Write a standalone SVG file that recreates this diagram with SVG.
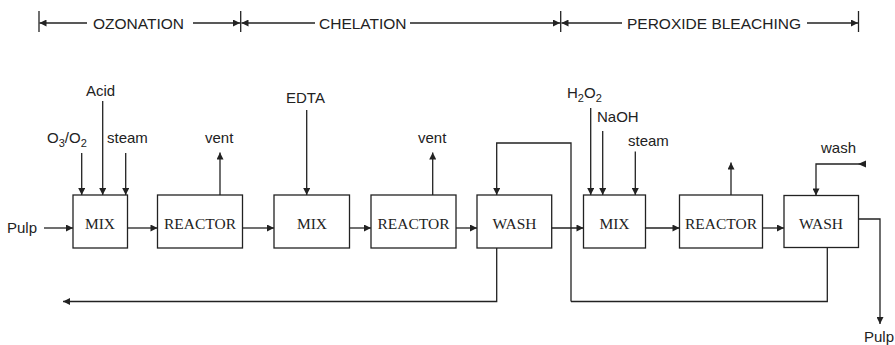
<svg xmlns="http://www.w3.org/2000/svg" width="895" height="345" viewBox="0 0 895 345">
<style>
.box{fill:#fff;stroke:#222;stroke-width:1.3}
.ln{fill:none;stroke:#222;stroke-width:1.3}
.arr{fill:none;stroke:#222;stroke-width:1.3;marker-end:url(#ah)}
.bt{font-family:"Liberation Serif","Times New Roman",serif;font-size:15.5px;fill:#222;text-anchor:middle}
.lb{font-family:"Liberation Sans",Arial,sans-serif;font-size:15px;fill:#222}
.hd{font-family:"Liberation Sans",Arial,sans-serif;font-size:15.5px;fill:#222}
</style>
<defs>
<marker id="ah" viewBox="0 0 10 10" refX="10" refY="5" markerWidth="8" markerHeight="7" markerUnits="userSpaceOnUse" orient="auto">
<path d="M0,0 L10,5 L0,10 z" fill="#222"/>
</marker>
</defs>
<rect width="895" height="345" fill="#fff"/>

<g id="header">
<line class="ln" x1="39" y1="11" x2="39" y2="32"/>
<line class="ln" x1="240.7" y1="11" x2="240.7" y2="32"/>
<line class="ln" x1="560.7" y1="11" x2="560.7" y2="32"/>
<line class="ln" x1="858.5" y1="11" x2="858.5" y2="32"/>
<line class="arr" x1="87" y1="23" x2="39.5" y2="23"/>
<text class="hd" x="93" y="28.5">OZONATION</text>
<line class="arr" x1="193" y1="23" x2="240" y2="23"/>
<line class="arr" x1="315" y1="23" x2="241.5" y2="23"/>
<text class="hd" x="319" y="28.5">CHELATION</text>
<line class="arr" x1="410" y1="23" x2="560" y2="23"/>
<line class="arr" x1="622" y1="23" x2="561.5" y2="23"/>
<text class="hd" x="627" y="28.5">PEROXIDE BLEACHING</text>
<line class="arr" x1="807" y1="23" x2="858" y2="23"/>
</g>

<g id="mix1"><rect class="box" x="73" y="195" width="54.5" height="53"/><text class="bt" x="100" y="229">MIX</text></g>
<g id="reactor1"><rect class="box" x="157.5" y="195" width="85" height="53"/><text class="bt" x="200" y="229">REACTOR</text></g>
<g id="mix2"><rect class="box" x="274" y="195" width="75.5" height="53"/><text class="bt" x="312" y="229">MIX</text></g>
<g id="reactor2"><rect class="box" x="371" y="195" width="85" height="53"/><text class="bt" x="413.5" y="229">REACTOR</text></g>
<g id="wash1"><rect class="box" x="477" y="195" width="74.7" height="53"/><text class="bt" x="514.5" y="229">WASH</text></g>
<g id="mix3"><rect class="box" x="583.5" y="195" width="62" height="53"/><text class="bt" x="614.5" y="229">MIX</text></g>
<g id="reactor3"><rect class="box" x="679.5" y="195" width="83" height="53"/><text class="bt" x="721" y="229">REACTOR</text></g>
<g id="wash2"><rect class="box" x="784" y="195.5" width="74.5" height="52"/><text class="bt" x="821" y="229">WASH</text></g>

<g id="labels">
<text class="lb" x="7" y="232.5">Pulp</text>
<text class="lb" x="86" y="96">Acid</text>
<text class="lb" x="47" y="143">O<tspan font-size="11" dy="4">3</tspan><tspan dy="-4">/O</tspan><tspan font-size="11" dy="4">2</tspan></text>
<text class="lb" x="107" y="143">steam</text>
<text class="lb" x="205" y="143">vent</text>
<text class="lb" x="286" y="103">EDTA</text>
<text class="lb" x="418" y="143">vent</text>
<text class="lb" x="567" y="98">H<tspan font-size="11" dy="4">2</tspan><tspan dy="-4">O</tspan><tspan font-size="11" dy="4">2</tspan></text>
<text class="lb" x="597" y="122">NaOH</text>
<text class="lb" x="628" y="146">steam</text>
<text class="lb" x="821" y="153">wash</text>
<text class="lb" x="864" y="342">Pulp</text>
</g>

<g id="connectors">
<line class="arr" x1="44" y1="228" x2="73" y2="228"/>
<line class="arr" x1="127.5" y1="228" x2="157.5" y2="228"/>
<line class="arr" x1="242.5" y1="228" x2="274" y2="228"/>
<line class="arr" x1="349.5" y1="228" x2="371" y2="228"/>
<line class="arr" x1="456" y1="228" x2="477" y2="228"/>
<line class="arr" x1="551.7" y1="228" x2="583.5" y2="228"/>
<line class="arr" x1="645.5" y1="228" x2="679.5" y2="228"/>
<line class="arr" x1="762.5" y1="228" x2="784" y2="228"/>
<line class="arr" x1="81.7" y1="153" x2="81.7" y2="195"/>
<line class="arr" x1="102.7" y1="101" x2="102.7" y2="195"/>
<line class="arr" x1="125.7" y1="153" x2="125.7" y2="195"/>
<line class="arr" x1="220" y1="195" x2="220" y2="152.5"/>
<line class="arr" x1="306.7" y1="110" x2="306.7" y2="195"/>
<line class="arr" x1="432.7" y1="195" x2="432.7" y2="152.5"/>
<line class="arr" x1="590.7" y1="108" x2="590.7" y2="195"/>
<line class="arr" x1="602.7" y1="131" x2="602.7" y2="195"/>
<line class="arr" x1="635.3" y1="151.5" x2="635.3" y2="195"/>
<line class="arr" x1="731" y1="195" x2="731" y2="162.5"/>
<path class="arr" d="M866,164 H816 V195.5"/>
<polygon points="858,164 866,160.5 866,167.5" fill="#222"/>
<path class="arr" d="M571,301.5 V143 H496.7 V195"/>
<path class="ln" d="M571,301.5 H827.3 V247.5"/>
<path class="arr" d="M496.7,248 V301.5 H63"/>
<path class="arr" d="M858.5,219 H880 V324"/>
</g>
</svg>
